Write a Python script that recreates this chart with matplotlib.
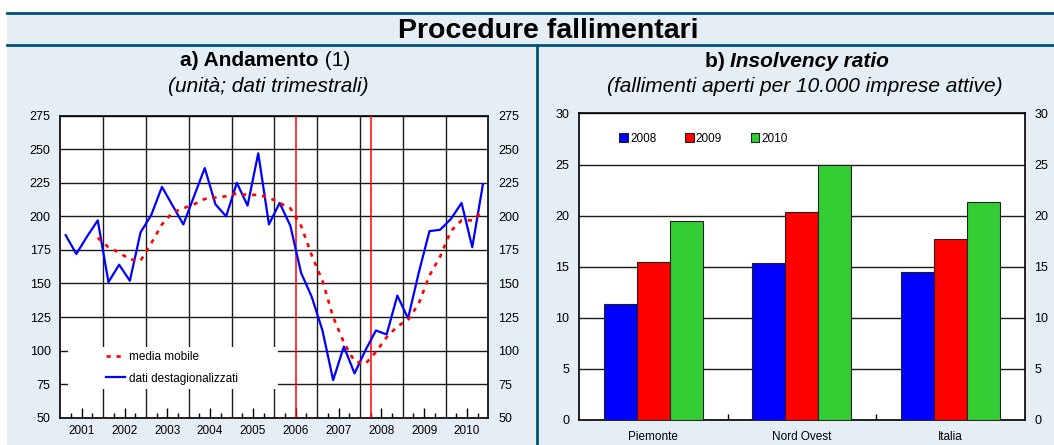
import matplotlib
matplotlib.use('Agg')
import matplotlib.pyplot as plt
import numpy as np
from matplotlib.patches import Rectangle
from matplotlib.lines import Line2D

plt.rcParams['font.family'] = ['Liberation Sans', 'DejaVu Sans']

# a) Andamento - dati trimestrali 2001Q1-2010Q4
destag = [186, 172, 185, 197, 151, 164, 152, 188, 201, 222,
          208, 194, 215, 236, 209, 200, 225, 208, 247, 194,
          210, 193, 158, 140, 115, 78, 103, 83, 100, 115,
          112, 141, 124, 158, 189, 190, 198, 210, 177, 224]
# media mobile, dal 2001Q4
media_mobile = [184, 177, 173, 168, 167, 180, 194, 203, 206, 209,
                213, 214, 215, 217, 216, 216, 214, 210, 206, 193,
                171, 152, 125, 106, 92, 90, 99, 110, 118, 123,
                135, 156, 170, 189, 197, 197, 204]
anni = list(range(2001, 2011))
linee_rosse = [2006.5, 2008.25]

# b) Insolvency ratio
aree = ['Piemonte', 'Nord Ovest', 'Italia']
ratio_2008 = [11.4, 15.4, 14.5]
ratio_2009 = [15.5, 20.4, 17.7]
ratio_2010 = [19.5, 25.0, 21.3]

W, H = 1054, 445
fig = plt.figure(figsize=(W / 100, H / 100), dpi=100)
fig.patch.set_facecolor('white')

bg = '#E6EEF5'
dark = '#00527C'
fig.add_artist(Rectangle((7 / W, 0), 1, 1 - 12 / H, transform=fig.transFigure,
                         facecolor=bg, edgecolor='none', zorder=0))
fig.add_artist(Line2D([7 / W, 1], [1 - 12.5 / H] * 2, color=dark, lw=2, transform=fig.transFigure))
fig.add_artist(Line2D([7 / W, 1], [1 - 44.5 / H] * 2, color=dark, lw=2, transform=fig.transFigure))
fig.add_artist(Line2D([537 / W] * 2, [0, 1 - 45 / H], color=dark, lw=2, transform=fig.transFigure))

fig.text(548 / W, 1 - 37.5 / H, 'Procedure fallimentari', ha='center', va='baseline',
         fontsize=20.5, fontweight='bold')

renderer = fig.canvas.get_renderer()


def titolo(cx, y, parti):
    texts = []
    for s, kw in parti:
        texts.append(fig.text(0, 1 - y / H, s, va='baseline', fontsize=15, **kw))
    widths = [t.get_window_extent(renderer).width for t in texts]
    x = cx - sum(widths) / 2
    for t, w in zip(texts, widths):
        t.set_x(x / W)
        x += w


titolo(265, 66.5, [('a) Andamento', dict(fontweight='bold')), (' (1)', {})])
fig.text(268 / W, 1 - 91.5 / H, '(unità; dati trimestrali)', ha='center', va='baseline',
         fontsize=15, style='italic')
titolo(797, 67, [('b) ', dict(fontweight='bold')),
                 ('Insolvency ratio', dict(fontweight='bold', style='italic'))])
fig.text(805 / W, 1 - 92.5 / H, '(fallimenti aperti per 10.000 imprese attive)', ha='center',
         va='baseline', fontsize=15, style='italic')

# ---- pannello a)
ax1 = fig.add_axes([60.3 / W, 1 - 417.7 / H, 428 / W, 302 / H])
x = 2001.125 + 0.25 * np.arange(len(destag))
ax1.plot(x, destag, color='#0000FF', lw=1.6, zorder=4, label='dati destagionalizzati')
ax1.plot(x[3:], media_mobile, color='#FF0000', lw=1.9, ls=(0, (1.6, 2.2)), zorder=4,
         label='media mobile')
for v in linee_rosse:
    ax1.axvline(v, color='#FF0000', lw=1.1, zorder=3)
for a in anni[1:]:
    ax1.axvline(a, color='#1a1a1a', lw=1, zorder=1)
ax1.set_xlim(2001, 2011)
ax1.set_ylim(50, 275)
ax1.set_yticks(range(50, 276, 25))
ax1.grid(axis='y', color='#1a1a1a', lw=1, zorder=1)
ax1.set_axisbelow(True)
ax1.set_xticks([a + 0.5 for a in anni], [str(a) for a in anni])
ax1.set_xticks([a + q for a in anni for q in (0.25, 0.75)], minor=True)
ax1.tick_params(axis='x', which='major', direction='in', length=7, width=1, pad=5,
                labelsize=8.5, top=False)
ax1.tick_params(axis='x', which='minor', direction='in', length=3.5, width=1, top=False)
ax1.tick_params(axis='y', length=0, pad=7, labelsize=9, labelright=True)
for sp in ax1.spines.values():
    sp.set_linewidth(1.2)
ax1.add_patch(Rectangle((0.018, 0.095), 0.491, 0.139, transform=ax1.transAxes,
                        facecolor='white', edgecolor='none', zorder=2.5))
h, l = ax1.get_legend_handles_labels()
ax1.legend(h[::-1], l[::-1], loc='center left', bbox_to_anchor=(0.096, 0.165), frameon=False,
           fontsize=8.5, handlelength=1.6, handletextpad=0.3, labelspacing=0.8,
           borderpad=0.4, borderaxespad=0)

# ---- pannello b)
ax2 = fig.add_axes([579 / W, 1 - 420 / H, 445.5 / W, 306.5 / H])
xc = np.arange(len(aree))
w = 0.223
ax2.bar(xc - w, ratio_2008, w, color='#0000FF', edgecolor='#222222', lw=0.8, label='2008', zorder=3)
ax2.bar(xc, ratio_2009, w, color='#FF0000', edgecolor='#222222', lw=0.8, label='2009', zorder=3)
ax2.bar(xc + w, ratio_2010, w, color='#33CC33', edgecolor='#222222', lw=0.8, label='2010', zorder=3)
ax2.set_xlim(-0.5, 2.5)
ax2.set_ylim(0, 30)
ax2.set_yticks(range(0, 31, 5))
ax2.grid(axis='y', color='#1a1a1a', lw=1)
ax2.set_axisbelow(True)
ax2.set_xticks(xc, aree)
ax2.set_xticks([0.5, 1.5], minor=True)
ax2.tick_params(axis='x', which='major', length=0, pad=8, labelsize=8.5)
ax2.tick_params(axis='x', which='minor', direction='in', length=4, width=1)
ax2.tick_params(axis='y', length=0, pad=7, labelsize=9, labelright=True)
for sp in ax2.spines.values():
    sp.set_linewidth(1.2)
ax2.legend(loc='center left', bbox_to_anchor=(0.079, 0.917), ncol=3, frameon=False,
           fontsize=8.5, handlelength=0.75, handleheight=0.75, handletextpad=0.2,
           columnspacing=2.4, borderpad=0.4, borderaxespad=0)

fig.savefig('out.png', dpi=100, facecolor=fig.get_facecolor())
